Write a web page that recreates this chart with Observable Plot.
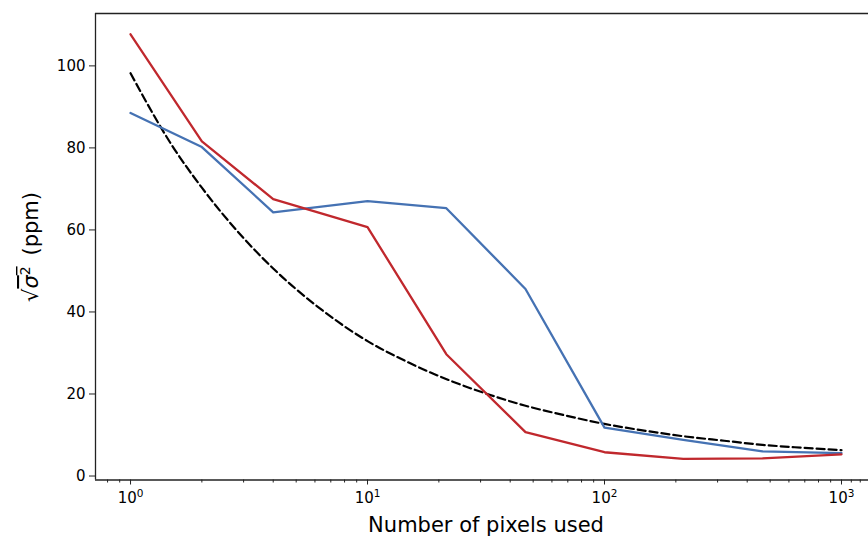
<!DOCTYPE html>
<html>
<head>
<meta charset="utf-8">
<script src="https://cdn.jsdelivr.net/npm/d3@7"></script>
<script src="https://cdn.jsdelivr.net/npm/@observablehq/plot@0.6"></script>
<style>
  html, body { margin: 0; padding: 0; background: white; overflow: hidden; }
</style>
</head>
<body>
<div id="chart"></div>
<script>
// Number of pixels combined in the aperture
const pixels = [1, 2, 4, 10, 21.5, 46.4, 100, 215, 464, 1000];
// Measured scatter, two reductions (ppm)
const scatterRed = [107.7, 81.6, 67.5, 60.7, 29.7, 10.7, 5.8, 4.2, 4.3, 5.3];
const scatterBlue = [88.5, 80.2, 64.3, 67.0, 65.3, 45.6, 11.8, 8.8, 6.0, 5.6];
// Expected scatter curve (ppm)
const expectedPixels = [1, 1.5, 2, 3, 4, 6, 10, 15, 22, 32, 46, 68, 100, 150, 215, 320, 464, 680, 1000];
const expectedScatter = [98.2, 80.5, 70.3, 58.0, 50.6, 41.8, 32.9, 27.6, 23.4, 20.0, 17.2, 14.8, 12.7, 11.0, 9.7, 8.6, 7.6, 6.9, 6.3];

// Axis ticks
const yTicks = [0, 20, 40, 60, 80, 100];
const xMajor = [1, 10, 100, 1000];
const xMinor = [0.8, 0.9];
for (const d of [1, 10, 100]) for (let k = 2; k <= 9; k++) xMinor.push(k * d);
xMinor.push(1100, 1200);

const xDomain = [0.7115, 1300];
const yDomain = [-0.97, 112.77];

const redRows = pixels.map((n, i) => ({n, v: scatterRed[i]}));
const blueRows = pixels.map((n, i) => ({n, v: scatterBlue[i]}));
const expRows = expectedPixels.map((n, i) => ({n, v: expectedScatter[i]}));

const chart = Plot.plot({
  width: 868,
  height: 536,
  marginLeft: 95,
  marginRight: 0,
  marginTop: 13,
  marginBottom: 56.5,
  x: {type: "log", domain: xDomain},
  y: {domain: yDomain},
  style: {fontFamily: "DejaVu Sans", fontSize: "15px", color: "black", background: "white"},
  marks: [
    Plot.axisY({ticks: yTicks, tickSize: 6, tickPadding: 4, label: null, fontSize: 15, stroke: "#222"}),
    Plot.axisX({ticks: xMajor, tickSize: 5, tickPadding: 7, label: null, fontSize: 15, stroke: "#222",
      tickFormat: d => String(Math.round(Math.log10(d)))}),
    Plot.axisX({ticks: xMinor, tickSize: 3, text: null, label: null, stroke: "#222"}),
    Plot.ruleX([xDomain[0]], {stroke: "#222", strokeWidth: 1.3}),
    Plot.ruleY([yDomain[0], yDomain[1]], {stroke: "#222", strokeWidth: 1.3}),
    Plot.line(expRows, {x: "n", y: "v", stroke: "black", strokeWidth: 2.2, strokeDasharray: "8,4", curve: "monotone-x"}),
    Plot.line(blueRows, {x: "n", y: "v", stroke: "#4572b3", strokeWidth: 2.3}),
    Plot.line(redRows, {x: "n", y: "v", stroke: "#c0282d", strokeWidth: 2.3}),
    Plot.text(["Number of pixels used"], {frameAnchor: "bottom", lineAnchor: "middle", dy: 44.8, dx: 4, fontSize: 21, fill: "black"})
  ]
});

document.getElementById("chart").appendChild(chart);
const svg = d3.select(chart);

// x tick labels as powers of ten: "10" with a raised exponent
svg.selectAll('g[aria-label="x-axis tick label"] text').each(function () {
  const t = d3.select(this);
  const exp = t.text().trim();
  if (!/^\d+$/.test(exp)) { t.remove(); return; }
  t.text("");
  t.append("tspan").text("10");
  t.append("tspan").attr("font-size", 10.5).attr("dy", "-0.55em").text(exp);
});

// y-axis label: square root of sigma squared, in ppm
const label = svg.append("text")
  .attr("transform", "translate(38,247) rotate(-90)")
  .attr("text-anchor", "middle")
  .attr("font-family", "DejaVu Sans")
  .attr("font-size", 21)
  .attr("fill", "black");
label.append("tspan").text("\u221A");
const root = label.append("tspan").attr("text-decoration", "overline");
root.append("tspan").attr("font-style", "italic").text("\u03C3");
root.append("tspan").attr("font-size", 14).attr("dy", -8).text("2");
label.append("tspan").attr("dy", 8).text("\u2009 (ppm)");
</script>
</body>
</html>
